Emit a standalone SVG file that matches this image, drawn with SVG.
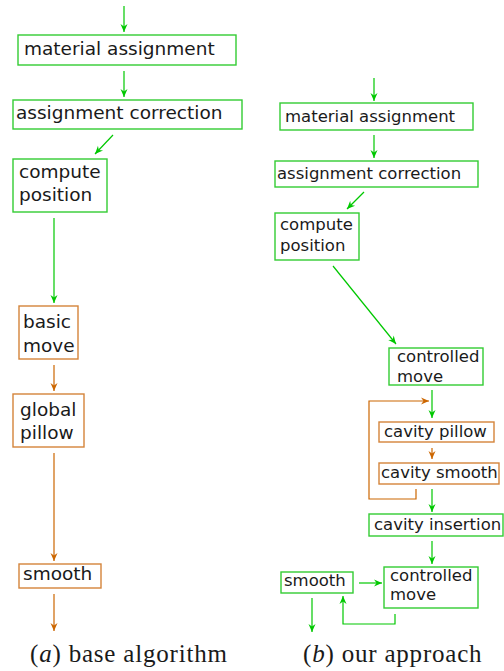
<svg xmlns="http://www.w3.org/2000/svg" width="504" height="671" viewBox="0 0 504 671">
<style>
  .g { stroke: #00c800; stroke-width: 1.2; fill: none; }
  .o { stroke: #cc6600; stroke-width: 1.2; fill: none; }
  .gb { stroke: #33cc33; stroke-width: 1.4; fill: #ffffff; }
  .ob { stroke: #d4843a; stroke-width: 1.4; fill: #ffffff; }
  .ga { marker-end: url(#ag); }
  .oa { marker-end: url(#ao); }
  .tl { font-family: "DejaVu Sans", sans-serif; font-size: 18.5px; fill: #1a1a1a; }
  .tr { font-family: "DejaVu Sans", sans-serif; font-size: 16.5px; fill: #1a1a1a; }
  .cap { font-family: "Liberation Serif", "DejaVu Serif", serif; font-size: 25px; fill: #1a1a1a; }
</style>
<defs>
  <marker id="ag" markerUnits="userSpaceOnUse" markerWidth="12" markerHeight="10" viewBox="-9 -5 10 10" refX="0" refY="0" orient="auto">
    <path d="M0,0 L-8,-3.5 L-5.5,0 L-8,3.5 Z" fill="#00c800"/>
  </marker>
  <marker id="ao" markerUnits="userSpaceOnUse" markerWidth="12" markerHeight="10" viewBox="-9 -5 10 10" refX="0" refY="0" orient="auto">
    <path d="M0,0 L-8,-3.5 L-5.5,0 L-8,3.5 Z" fill="#cc6600"/>
  </marker>
</defs>

<g id="connectors">
  <path class="g ga" d="M124,6 V32"/>
  <path class="g ga" d="M124,71 V97"/>
  <path class="g ga" d="M113,135 L95,154"/>
  <path class="g ga" d="M54,218 V303"/>
  <path class="o oa" d="M54,365 V391"/>
  <path class="o oa" d="M54,453 V561"/>
  <path class="o oa" d="M54,594 V631"/>

  <path class="g ga" d="M374,78 V101"/>
  <path class="g ga" d="M374,135 V158"/>
  <path class="g ga" d="M364,192 L347,209"/>
  <path class="g ga" d="M333,266 L396,344"/>
  <path class="g ga" d="M432,390 V418"/>
  <path class="o oa" d="M416,489 V499 H369 V401 H429"/>
  <path class="o oa" d="M432,448 V459"/>
  <path class="g ga" d="M432,489 V512"/>
  <path class="g ga" d="M432,541 V564"/>
  <path class="g ga" d="M359,583 H382"/>
  <path class="g ga" d="M395,614 V624 H343 V596"/>
  <path class="g ga" d="M312,598 V632"/>
</g>

<g id="a-material-assignment">
  <rect class="gb" x="18" y="35" width="218" height="30"/>
  <text class="tl" x="24" y="55">material assignment</text>
</g>
<g id="a-assignment-correction">
  <rect class="gb" x="13" y="100" width="229" height="29"/>
  <text class="tl" x="16" y="119">assignment correction</text>
</g>
<g id="a-compute-position">
  <rect class="gb" x="13" y="159" width="94" height="53"/>
  <text class="tl" x="19" y="178">compute</text>
  <text class="tl" x="19" y="201">position</text>
</g>
<g id="a-basic-move">
  <rect class="ob" x="19" y="306" width="59" height="53"/>
  <text class="tl" x="23" y="328">basic</text>
  <text class="tl" x="23" y="352">move</text>
</g>
<g id="a-global-pillow">
  <rect class="ob" x="13" y="394" width="71" height="53"/>
  <text class="tl" x="20" y="416">global</text>
  <text class="tl" x="20" y="439">pillow</text>
</g>
<g id="a-smooth">
  <rect class="ob" x="19" y="564" width="82" height="24"/>
  <text class="tl" x="23" y="580">smooth</text>
</g>

<g id="b-material-assignment">
  <rect class="gb" x="280" y="103" width="193" height="27"/>
  <text class="tr" x="285" y="122">material assignment</text>
</g>
<g id="b-assignment-correction">
  <rect class="gb" x="275" y="161" width="203" height="26"/>
  <text class="tr" x="277" y="179">assignment correction</text>
</g>
<g id="b-compute-position">
  <rect class="gb" x="275" y="213" width="84" height="47"/>
  <text class="tr" x="280" y="230">compute</text>
  <text class="tr" x="280" y="251">position</text>
</g>
<g id="b-controlled-move-1">
  <rect class="gb" x="389" y="348" width="94" height="37"/>
  <text class="tr" x="397" y="362">controlled</text>
  <text class="tr" x="397" y="382">move</text>
</g>
<g id="b-cavity-pillow">
  <rect class="ob" x="379" y="422" width="115" height="20"/>
  <text class="tr" x="384" y="437">cavity pillow</text>
</g>
<g id="b-cavity-smooth">
  <rect class="ob" x="379" y="463" width="120" height="21"/>
  <text class="tr" x="381" y="478">cavity smooth</text>
</g>
<g id="b-cavity-insertion">
  <rect class="gb" x="369" y="514" width="134" height="22"/>
  <text class="tr" x="374" y="530">cavity insertion</text>
</g>
<g id="b-controlled-move-2">
  <rect class="gb" x="384" y="567" width="94" height="41"/>
  <text class="tr" x="390" y="581">controlled</text>
  <text class="tr" x="390" y="600">move</text>
</g>
<g id="b-smooth">
  <rect class="gb" x="281" y="572" width="72" height="21"/>
  <text class="tr" x="284" y="586">smooth</text>
</g>

<g id="captions">
  <text class="cap" x="30" y="662" letter-spacing="0.8">(<tspan font-style="italic">a</tspan>) base algorithm</text>
  <text class="cap" x="303" y="662" letter-spacing="0.8">(<tspan font-style="italic">b</tspan>) our approach</text>
</g>
</svg>
